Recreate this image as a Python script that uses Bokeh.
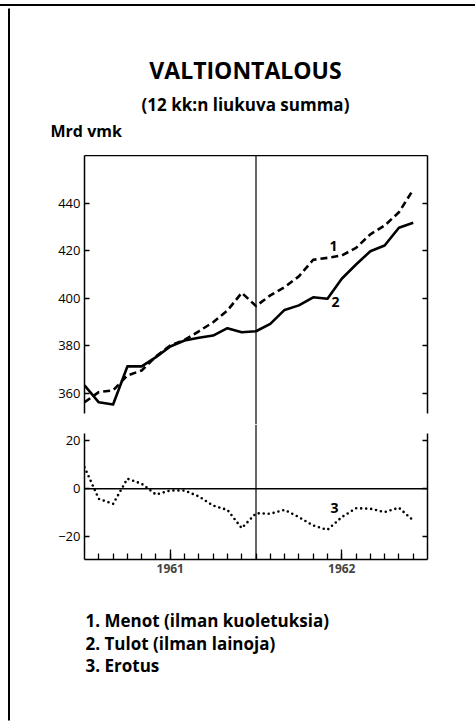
from bokeh.plotting import figure
from bokeh.layouts import column, row
from bokeh.models import Range1d, LinearAxis, FixedTicker, Span, Label, Title
from bokeh.embed import file_html
from bokeh.resources import INLINE

# ---- data ----
months = [1961 + i / 12 for i in range(24)]  # monthly points, Jan 1961 .. Dec 1962
menot = [356.3, 360.6, 361.3, 367.6, 369.7, 375.6, 380.2, 382.6, 386.2, 390.0, 394.9, 402.4,
         396.8, 401.3, 404.8, 409.3, 416.3, 417.1, 418.1, 421.3, 427.0, 430.7, 436.3, 445.8]
tulot = [363.4, 356.3, 355.4, 371.4, 371.4, 375.3, 379.8, 382.3, 383.5, 384.4, 387.5, 385.8,
         386.2, 389.3, 395.2, 397.1, 400.5, 399.9, 408.3, 414.3, 419.9, 422.3, 429.8, 431.9]
erotus = [9.0, -4.2, -6.3, 4.2, 2.1, -2.4, -0.7, -0.7, -3.2, -7.0, -8.8, -16.4,
          -10.2, -10.4, -8.8, -11.8, -15.3, -17.1, -11.8, -8.1, -8.3, -9.7, -7.9, -13.2]

upper_ticks = [360, 380, 400, 420, 440]
lower_ticks = [-20, 0, 20]
year_ticks = [1961.5, 1962.5]
year_labels = ["1961", "1962"]
month_ticks = [1961 + k / 12 for k in range(1, 24)]
title = "VALTIONTALOUS"
subtitle = "(12 kk:n liukuva summa)"
unit_label = "Mrd vmk"
legend_lines = ["1. Menot (ilman kuoletuksia)", "2. Tulot (ilman lainoja)", "3. Erotus"]

FONT = "Open Sans"
W = 465          # width of the main column
SPACER_W = 10    # left strip with the page border line
H_HEAD, H_UP, H_LOW, H_FOOT = 149, 269, 166, 131
H_ALL = H_HEAD + H_UP + H_LOW + H_FOOT
BL, BR = 74, 48  # chart frame borders inside the column
FL, FR = BL, W - BR  # frame edges in column pixels
HEAD_BOTTOM = 39


def text_fig(h, bottom=0):
    # same frame borders as the charts; data units = column pixels
    f = figure(width=W, height=h, output_backend="svg", toolbar_location=None,
               x_range=Range1d(FL, FR), y_range=Range1d(h - bottom, 0),
               x_axis_type=None, y_axis_type=None,
               min_border_left=BL, min_border_right=BR, min_border_top=0,
               min_border_bottom=bottom)
    f.outline_line_color = None
    f.grid.visible = False
    return f


def style_axis(ax, show_labels=True):
    ax.axis_line_color = "black"
    ax.axis_line_width = 1.5
    ax.major_tick_in = 5
    ax.major_tick_out = 0
    ax.major_tick_line_width = 1.5
    ax.minor_tick_line_color = None
    ax.major_label_text_font = FONT
    ax.major_label_text_font_size = "13px"
    ax.major_label_text_color = "black"
    ax.major_label_standoff = 4
    if not show_labels:
        ax.major_label_overrides = {t: "" for t in ax.ticker.ticks}


# ---- left strip: page border ----
strip = figure(width=SPACER_W, height=H_ALL, output_backend="svg", toolbar_location=None,
               x_range=Range1d(0, SPACER_W), y_range=Range1d(H_ALL, 0),
               x_axis_type=None, y_axis_type=None,
               min_border_left=0, min_border_right=0, min_border_top=0, min_border_bottom=0)
strip.outline_line_color = None
strip.grid.visible = False
strip.segment(x0=[8.5], y0=[2], x1=[8.5], y1=[H_ALL - 1], line_color="black", line_width=2)

# ---- header ----
head = text_fig(H_HEAD, HEAD_BOTTOM)
tk = dict(text_font=FONT, text_font_style="bold", text_color="black", text_baseline="middle")
head.add_layout(Label(x=235, y=63, text=title, text_font_size="23px", text_align="center", **tk))
head.add_layout(Label(x=235, y=98, text=subtitle, text_font_size="17px", text_align="center", **tk))
unit_title = Title(text=unit_label, align="left", offset=-34, standoff=2,
                   text_font=FONT, text_font_size="16px", text_font_style="bold",
                   text_color="black")
head.add_layout(unit_title, "below")

# ---- upper chart ----
up = figure(width=W, height=H_UP, output_backend="svg", toolbar_location=None,
            x_range=Range1d(1961.0, 1963.0), y_range=Range1d(346.95, 460.2),
            x_axis_type=None, y_axis_type=None,
            min_border_left=BL, min_border_right=BR, min_border_top=0, min_border_bottom=0)
up.outline_line_color = None
top_ax = LinearAxis(ticker=FixedTicker(ticks=[]))
top_ax.axis_line_width = 1.5
top_ax.major_tick_out = 0
top_ax.major_tick_in = 0
top_ax.major_label_standoff = 0
top_ax.minor_tick_line_color = None
up.add_layout(top_ax, "above")
ax = LinearAxis(ticker=FixedTicker(ticks=upper_ticks), bounds=(351.6, 460.2))
style_axis(ax)
up.add_layout(ax, "left")
ax = LinearAxis(ticker=FixedTicker(ticks=upper_ticks), bounds=(351.6, 460.2))
style_axis(ax, False)
up.add_layout(ax, "right")
up.add_layout(Span(location=1962.0, dimension="height", line_color="black", line_width=1.2))
up.line(months, menot, line_color="black", line_width=2.6, line_dash="7 4")
up.line(months, tulot, line_color="black", line_width=2.6, line_join="round")
lab_kw = dict(text_font=FONT, text_font_size="14px", text_font_style="bold",
              text_align="center", text_baseline="middle", text_color="black")
up.add_layout(Label(x=1962.452, y=421.9, text="1", **lab_kw))
up.add_layout(Label(x=1962.464, y=398.7, text="2", **lab_kw))

# ---- lower chart ----
low = figure(width=W, height=H_LOW, output_backend="svg", toolbar_location=None,
             x_range=up.x_range, y_range=Range1d(-29.46, 26.79),
             x_axis_type=None, y_axis_type=None,
             min_border_left=BL, min_border_right=BR, min_border_top=0, min_border_bottom=31)
low.outline_line_color = None
ax = LinearAxis(ticker=FixedTicker(ticks=lower_ticks), bounds=(-29.46, 23.04))
style_axis(ax)
low.add_layout(ax, "left")
ax = LinearAxis(ticker=FixedTicker(ticks=lower_ticks), bounds=(-29.46, 23.04))
style_axis(ax, False)
low.add_layout(ax, "right")
axb = LinearAxis(ticker=FixedTicker(ticks=year_ticks, minor_ticks=month_ticks))
axb.axis_line_width = 1.5
axb.major_tick_in = 10
axb.major_tick_out = 0
axb.major_tick_line_width = 1.3
axb.minor_tick_in = 6
axb.minor_tick_out = 0
axb.minor_tick_line_width = 1.3
axb.minor_tick_line_color = "black"
axb.major_label_overrides = dict(zip(year_ticks, year_labels))
axb.major_label_text_font = FONT
axb.major_label_text_font_size = "12px"
axb.major_label_text_font_style = "bold"
axb.major_label_standoff = 4
low.add_layout(axb, "below")
low.add_layout(Span(location=1962.0, dimension="height", line_color="black", line_width=1.2))
low.add_layout(Span(location=0, dimension="width", line_color="black", line_width=1.5))
low.line(months, erotus, line_color="black", line_width=2.6, line_dash="0 5", line_cap="round")
low.add_layout(Label(x=1962.458, y=-7.8, text="3", **lab_kw))

# ---- footer (legend texts) ----
foot = text_fig(H_FOOT)
for i, s in enumerate(legend_lines):
    foot.add_layout(Label(x=75, y=30 + 22.5 * i, text=s, text_font_size="17px",
                          text_align="left", **tk))

layout = row(strip, column(head, up, low, foot, spacing=0), spacing=0)
layout.styles = {"border-top": "2px solid black", "margin-top": "4px"}
open("out.html", "w").write(file_html(layout, INLINE))
